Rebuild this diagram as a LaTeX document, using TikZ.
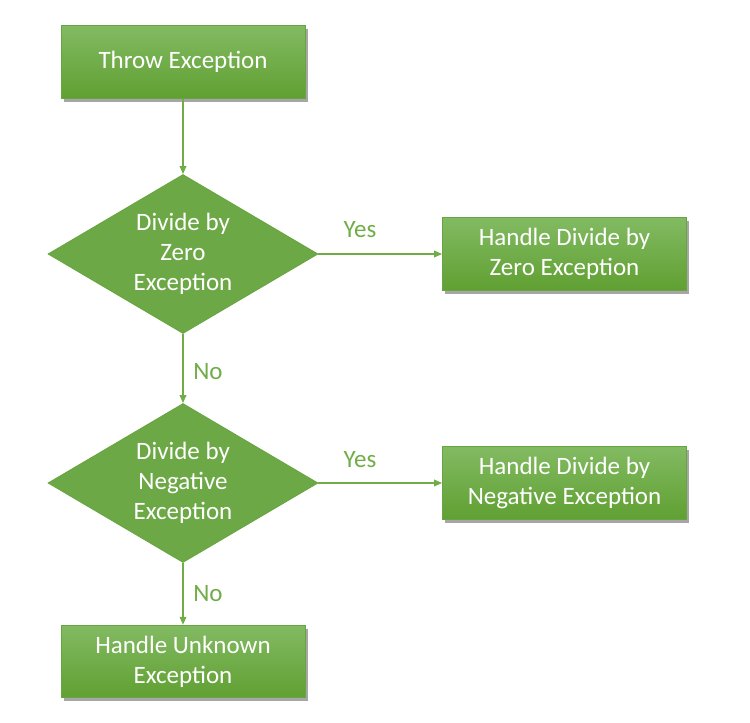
\documentclass[tikz,border=0pt]{standalone}
\usepackage{fontspec}
\setmainfont{Carlito}
\usetikzlibrary{shapes.geometric,arrows.meta,shadows}
\definecolor{gAcc}{RGB}{112,173,71}
\definecolor{gTop}{RGB}{130,186,98}
\definecolor{gBot}{RGB}{96,160,50}
\definecolor{gEdge}{RGB}{104,165,64}
\definecolor{gDia}{RGB}{108,168,70}
\begin{document}
\begin{tikzpicture}[x=0.75pt,y=-0.75pt,
  every node/.style={font=\fontsize{18.75pt}{22.5pt}\selectfont},
  procbox/.style={rectangle, draw=gEdge, line width=0.6pt, top color=gTop, bottom color=gBot,
    minimum width=183pt, minimum height=54.5pt, inner sep=0pt, text=white, align=center,
    drop shadow={shadow xshift=2pt, shadow yshift=-2.5pt, fill=black, opacity=0.35}},
  decbox/.style={diamond, draw=gEdge, line width=0.6pt, fill=gDia, aspect=1.7,
    minimum width=202.5pt, minimum height=119.25pt, inner sep=0pt, text=white,
    align=center},
  flow/.style={draw=gAcc, line width=1.1pt, -{Triangle[length=6pt,width=5pt]}},
  lbl/.style={text=gAcc}]
\useasboundingbox (0,0) rectangle (750,723);
\node[procbox] (throw) at (183,62) {Throw Exception};
\node[decbox] (dz) at (183,254) {Divide by\\Zero\\Exception};
\node[procbox] (hz) at (564.5,254) {Handle Divide by\\Zero Exception};
\node[decbox] (dn) at (183,483) {Divide by\\Negative\\Exception};
\node[procbox] (hn) at (564.5,483) {Handle Divide by\\Negative Exception};
\node[procbox] (hu) at (183,661.5) {Handle Unknown\\Exception};
\draw[flow] (throw.south) -- (dz.north);
\draw[flow] (dz.east) -- (hz.west);
\draw[flow] (dz.south) -- (dn.north);
\draw[flow] (dn.east) -- (hn.west);
\draw[flow] (dn.south) -- (hu.north);
\node[lbl] (y1) at (360,230) {Yes};
\node[lbl] (y2) at (360,460) {Yes};
\node[lbl] (n1) at (208,372) {No};
\node[lbl] (n2) at (208,594) {No};
\end{tikzpicture}
\end{document}
